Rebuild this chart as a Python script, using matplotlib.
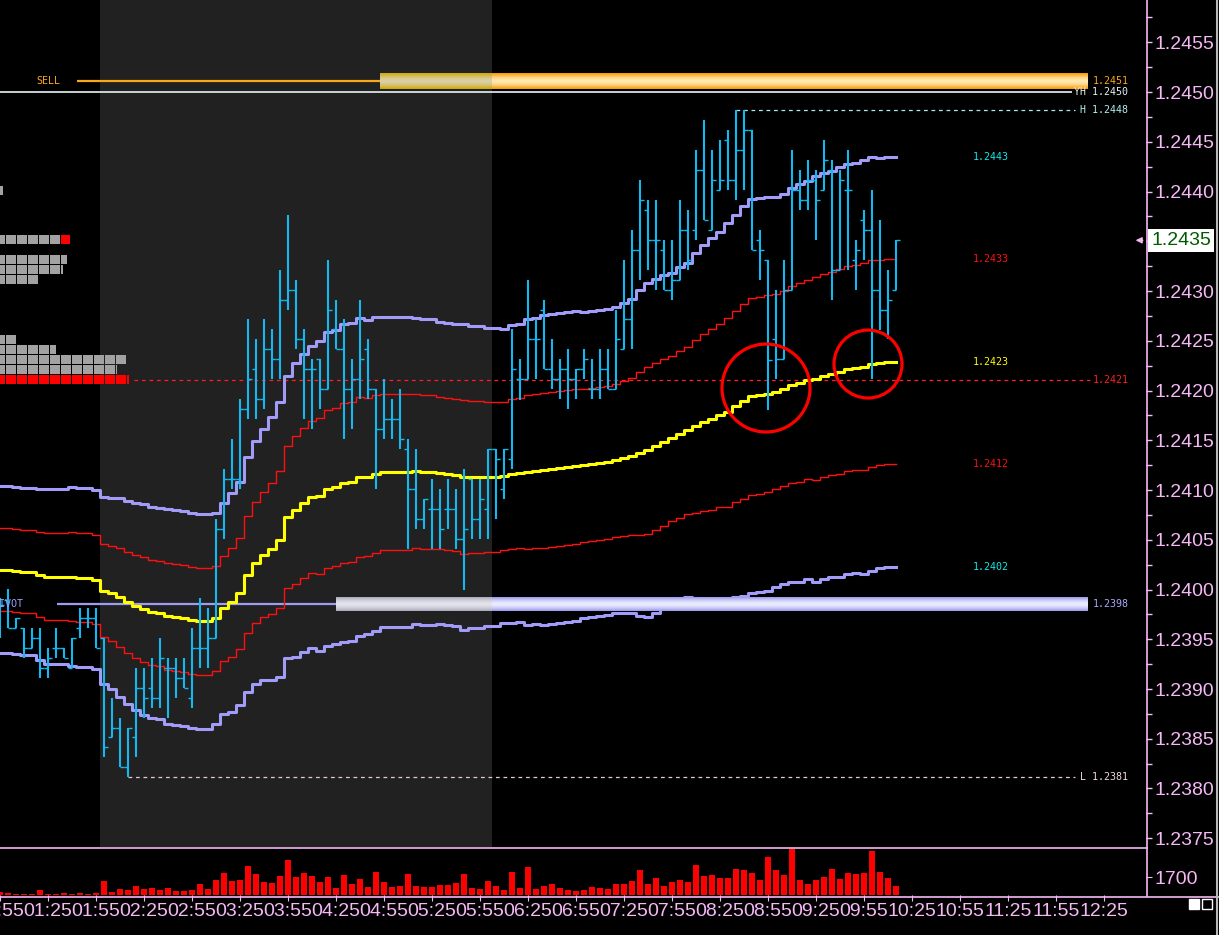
import matplotlib
matplotlib.use("Agg")
import numpy as np
import matplotlib.pyplot as plt
from matplotlib.patches import Ellipse, Rectangle
from matplotlib.lines import Line2D
from matplotlib.ticker import MultipleLocator, FuncFormatter
from matplotlib.colors import to_rgb
import matplotlib.transforms as mtransforms

plt.rcParams['font.family'] = ['Liberation Sans', 'DejaVu Sans']

# 5 minute bars, first bar at 00:55
opens = [
    1.23959, 1.23989, 1.23961, 1.23961, 1.23941, 1.23951, 1.23921, 1.23941, 1.23941, 1.23921,
    1.23961, 1.23971, 1.23971, 1.23951, 1.23852, 1.23861, 1.23822, 1.23852, 1.23901, 1.23901,
    1.23891, 1.23921, 1.23921, 1.23911, 1.23891, 1.23941, 1.23941, 1.23951, 1.24061, 1.24111,
    1.24111, 1.24181, 1.24222, 1.24191, 1.24242, 1.24232, 1.24291, 1.24301, 1.24252, 1.24222,
    1.24232, 1.24202, 1.24262, 1.24242, 1.24202, 1.24212, 1.24242, 1.24202, 1.24161, 1.24171,
    1.24171, 1.24141, 1.24101, 1.24071, 1.24081, 1.24081, 1.24081, 1.24081, 1.24051, 1.24111,
    1.24071, 1.24081, 1.24141, 1.24101, 1.24131, 1.24212, 1.24212, 1.24252, 1.24281, 1.24222,
    1.24212, 1.24222, 1.24212, 1.24222, 1.24202, 1.24202, 1.24222, 1.24202, 1.24242, 1.24272,
    1.24341, 1.24381, 1.24351, 1.24341, 1.24301, 1.24311, 1.24361, 1.24361, 1.24422, 1.24361,
    1.24402, 1.24452, 1.24412, 1.24442, 1.24462, 1.24351, 1.24331, 1.24252, 1.24232, 1.24301,
    1.24402, 1.24391, 1.24412, 1.24402, 1.24422, 1.24321, 1.24402, 1.24331, 1.24371, 1.24361,
    1.24301, 1.24281, 1.24301]
highs = [
    1.23991, 1.24001, 1.23971, 1.23961, 1.23961, 1.23961, 1.23941, 1.23961, 1.23941, 1.23951,
    1.23981, 1.23981, 1.23981, 1.23951, 1.23891, 1.23871, 1.23861, 1.23921, 1.23921, 1.23931,
    1.23951, 1.23931, 1.23931, 1.23931, 1.23961, 1.23991, 1.23981, 1.24071, 1.24121, 1.24151,
    1.24191, 1.24272, 1.24252, 1.24272, 1.24262, 1.24321, 1.24376, 1.24311, 1.24262, 1.24232,
    1.24232, 1.24331, 1.24291, 1.24272, 1.24232, 1.24291, 1.24252, 1.24202, 1.24212, 1.24191,
    1.24202, 1.24151, 1.24141, 1.24091, 1.24111, 1.24101, 1.24111, 1.24101, 1.24121, 1.24111,
    1.24111, 1.24141, 1.24141, 1.24141, 1.24262, 1.24232, 1.24311, 1.24272, 1.24291, 1.24252,
    1.24232, 1.24242, 1.24222, 1.24242, 1.24232, 1.24242, 1.24242, 1.24281, 1.24331, 1.24361,
    1.24412, 1.24391, 1.24391, 1.24351, 1.24351, 1.24391, 1.24381, 1.24442, 1.24472, 1.24442,
    1.24452, 1.24462, 1.24482, 1.24482, 1.24462, 1.24361, 1.24331, 1.24301, 1.24331, 1.24442,
    1.24422, 1.24432, 1.24422, 1.24452, 1.24432, 1.24422, 1.24442, 1.24351, 1.24381, 1.24402,
    1.24371, 1.24321, 1.24351]
lows = [
    1.23951, 1.23961, 1.23961, 1.23931, 1.23941, 1.23911, 1.23911, 1.23931, 1.23931, 1.23921,
    1.23951, 1.23961, 1.23941, 1.23832, 1.23852, 1.23822, 1.23812, 1.23832, 1.23871, 1.23881,
    1.23881, 1.23871, 1.23891, 1.23901, 1.23881, 1.23921, 1.23921, 1.23951, 1.24051, 1.24101,
    1.24101, 1.24171, 1.24171, 1.24181, 1.24212, 1.24212, 1.24281, 1.24242, 1.24171, 1.24161,
    1.24181, 1.24202, 1.24242, 1.24151, 1.24161, 1.24191, 1.24191, 1.24101, 1.24151, 1.24151,
    1.24141, 1.24041, 1.24061, 1.24061, 1.24041, 1.24041, 1.24061, 1.24041, 1.24000, 1.24051,
    1.24051, 1.24051, 1.24071, 1.24091, 1.24121, 1.24190, 1.24212, 1.24212, 1.24222, 1.24202,
    1.24191, 1.24181, 1.24191, 1.24212, 1.24191, 1.24191, 1.24202, 1.24202, 1.24242, 1.24242,
    1.24311, 1.24321, 1.24301, 1.24301, 1.24291, 1.24311, 1.24321, 1.24351, 1.24371, 1.24361,
    1.24402, 1.24402, 1.24391, 1.24402, 1.24341, 1.24311, 1.24180, 1.24212, 1.24232, 1.24301,
    1.24381, 1.24381, 1.24351, 1.24402, 1.24291, 1.24321, 1.24321, 1.24301, 1.24331, 1.24212,
    1.24261, 1.24252, 1.24301]
closes = [
    1.23984, 1.23961, 1.23971, 1.23941, 1.23951, 1.23921, 1.23931, 1.23941, 1.23931, 1.23951,
    1.23971, 1.23971, 1.23941, 1.23842, 1.23861, 1.23822, 1.23861, 1.23901, 1.23891, 1.23891,
    1.23931, 1.23921, 1.23911, 1.23901, 1.23941, 1.23941, 1.23951, 1.24061, 1.24111, 1.24111,
    1.24181, 1.24212, 1.24191, 1.24242, 1.24232, 1.24291, 1.24301, 1.24252, 1.24222, 1.24222,
    1.24202, 1.24281, 1.24242, 1.24202, 1.24212, 1.24232, 1.24202, 1.24161, 1.24171, 1.24171,
    1.24151, 1.24101, 1.24071, 1.24091, 1.24081, 1.24061, 1.24081, 1.24051, 1.24061, 1.24071,
    1.24091, 1.24141, 1.24131, 1.24141, 1.24222, 1.24212, 1.24252, 1.24252, 1.24222, 1.24212,
    1.24222, 1.24212, 1.24222, 1.24232, 1.24202, 1.24222, 1.24202, 1.24252, 1.24272, 1.24341,
    1.24391, 1.24351, 1.24351, 1.24301, 1.24311, 1.24361, 1.24331, 1.24422, 1.24371, 1.24412,
    1.24412, 1.24412, 1.24442, 1.24462, 1.24341, 1.24341, 1.24231, 1.24232, 1.24301, 1.24402,
    1.24391, 1.24412, 1.24391, 1.24432, 1.24321, 1.24412, 1.24402, 1.24341, 1.24361, 1.24301,
    1.24281, 1.24291, 1.24351]
volumes = [
    310, 220, 130, 100, 130, 465, 95, 95, 185, 95,
    185, 125, 215, 1395, 280, 560, 465, 835, 560, 650,
    465, 650, 370, 370, 465, 1020, 560, 1490, 2140, 1395,
    1490, 2790, 2045, 1300, 1115, 1860, 3350, 1770, 2140, 1860,
    1210, 1770, 650, 1955, 1020, 1580, 745, 2230, 1210, 745,
    835, 2045, 835, 745, 745, 930, 930, 1115, 2045, 650,
    560, 1395, 835, 465, 2230, 650, 2700, 560, 835, 1020,
    650, 465, 370, 465, 745, 680, 620, 1085, 1085, 1395,
    2390, 1085, 1645, 835, 1270, 1455, 1270, 2945, 1860, 1955,
    1645, 1645, 2480, 2390, 2140, 1455, 3720, 2390, 1955, 4430,
    1455, 1085, 1455, 1770, 2480, 1580, 2140, 2045, 2140, 4250,
    2230, 1675, 835]
vwap = [
    1.24020, 1.24020, 1.24019, 1.24018, 1.24018, 1.24015, 1.24013, 1.24013, 1.24013, 1.24013,
    1.24012, 1.24012, 1.24010, 1.23999, 1.23996, 1.23992, 1.23987, 1.23983, 1.23980, 1.23977,
    1.23976, 1.23973, 1.23972, 1.23971, 1.23969, 1.23968, 1.23968, 1.23971, 1.23981, 1.23987,
    1.23996, 1.24015, 1.24027, 1.24035, 1.24041, 1.24050, 1.24073, 1.24080, 1.24087, 1.24093,
    1.24094, 1.24101, 1.24103, 1.24107, 1.24108, 1.24113, 1.24113, 1.24116, 1.24118, 1.24118,
    1.24118, 1.24118, 1.24119, 1.24118, 1.24118, 1.24117, 1.24116, 1.24115, 1.24113, 1.24113,
    1.24113, 1.24113, 1.24113, 1.24114, 1.24116, 1.24117, 1.24118, 1.24119, 1.24120, 1.24121,
    1.24122, 1.24123, 1.24124, 1.24125, 1.24126, 1.24127, 1.24128, 1.24130, 1.24132, 1.24134,
    1.24137, 1.24140, 1.24144, 1.24148, 1.24152, 1.24156, 1.24160, 1.24164, 1.24168, 1.24171,
    1.24175, 1.24178, 1.24184, 1.24189, 1.24194, 1.24195, 1.24197, 1.24199, 1.24202, 1.24206,
    1.24208, 1.24211, 1.24212, 1.24215, 1.24217, 1.24219, 1.24222, 1.24223, 1.24224, 1.24227,
    1.24228, 1.24229, 1.24229]
# band width (one standard deviation) in pips
sd_pips = [
    4.2, 4.2, 4.2, 4.2, 4.2, 4.3, 4.4, 4.4, 4.4, 4.5,
    4.5, 4.5, 4.5, 4.7, 4.8, 5.0, 5.1, 5.2, 5.3, 5.3,
    5.3, 5.4, 5.4, 5.4, 5.4, 5.4, 5.4, 5.3, 5.3, 5.5,
    5.6, 5.9, 6.1, 6.3, 6.6, 6.9, 7.1, 7.4, 7.5, 7.6,
    7.8, 7.9, 7.9, 8.0, 8.0, 8.0, 7.9, 7.9, 7.8, 7.8,
    7.8, 7.8, 7.7, 7.7, 7.7, 7.6, 7.6, 7.6, 7.7, 7.6,
    7.6, 7.5, 7.5, 7.4, 7.5, 7.5, 7.7, 7.7, 7.8, 7.8,
    7.8, 7.8, 7.8, 7.7, 7.7, 7.7, 7.7, 7.7, 7.8, 7.9,
    8.2, 8.4, 8.4, 8.4, 8.3, 8.4, 8.4, 8.7, 8.9, 9.1,
    9.2, 9.5, 9.6, 9.8, 9.9, 9.9, 9.9, 9.8, 9.8, 9.9,
    10.0, 10.0, 10.2, 10.2, 10.2, 10.3, 10.3, 10.3, 10.4, 10.4,
    10.3, 10.3, 10.3]

time_labels = ['00:55', '01:25', '01:55', '02:25', '02:55', '03:25', '03:55', '04:25',
               '04:55', '05:25', '05:55', '06:25', '06:55', '07:25', '07:55', '08:25',
               '08:55', '09:25', '09:55', '10:25', '10:55', '11:25', '11:55', '12:25']
bars_per_label = 6

# key levels
sell_level = 1.24511
yh_level = 1.2450
h_level = 1.24482
alert_level = 1.24211
pivot_level = 1.23985
l_level = 1.23812
band_texts = ['1.2443', '1.2433', '1.2423', '1.2412', '1.2402']

# depth ladder on the left
dom_prices = [1.2440, 1.2435, 1.2433, 1.2432, 1.2431, 1.2425, 1.2424, 1.2423, 1.2422, 1.2421]
dom_cells = [0.8, 6.9, 6.6, 6.3, 4.0, 2.0, 5.6, 12.0, 11.2, 12.3]
dom_red_from = [99, 6, 99, 99, 99, 99, 99, 99, 99, 0]

PINK = '#F6B8F6'
BLUE = '#12B8F0'
LAV = '#A09CF8'
ORANGE = '#F8A818'
W, H = 1219, 935

x = np.arange(len(closes))
vw = np.array(vwap)
sd = np.array(sd_pips) * 0.0001

fig = plt.figure(figsize=(W / 100, H / 100), dpi=100, facecolor='black')
ax = fig.add_axes([0, 88 / H, 1146 / W, 847 / H], facecolor='black')
axv = fig.add_axes([0, 40 / H, 1146 / W, 46 / H], facecolor='black')
for a in (ax, axv):
    for s in a.spines.values():
        s.set_visible(False)

# session shading
ax.axvspan(12.5, 61.5, color='#212121', zorder=0, lw=0)

# order book ladder
for p, n, r in zip(dom_prices, dom_cells, dom_red_from):
    k = 0
    while k < n:
        w = min(10, (n - k) * 11 - 1) / 8
        col = '#FF0000' if k >= r else '#A2A2A2'
        ax.broken_barh([(-0.625 + k * 1.375, w)], (p - 0.00003, 0.00009),
                       facecolors=col, zorder=2)
        k += 1


def zone(x0, x1, yc, half, edge, mid, z=3):
    t = np.abs(np.linspace(-1, 1, 40)) ** 1.6
    e = np.array(to_rgb(edge))
    m = np.array(to_rgb(mid))
    cols = m[None, :] * (1 - t[:, None]) + e[None, :] * t[:, None]
    ax.imshow(cols[:, None, :], extent=(x0, x1, yc - half, yc + half), aspect='auto',
              origin='lower', interpolation='bilinear', zorder=z)


# level lines
ax.hlines(sell_level, 9.6, 47.5, color=ORANGE, lw=1.6, zorder=3)
zone(47.5, 61.5, sell_level, 0.000078, '#D0A800', '#DCD0A8')
zone(61.5, 136, sell_level, 0.000078, '#F89800', '#FFEAB0')
ax.hlines(yh_level, 0, 134, color='#E8F4F4', lw=1.2, zorder=3)
ax.hlines(h_level, 92, 134.4, color='#A8ECEC', lw=0.9, linestyles=(0, (3, 3)), zorder=3)
ax.hlines(alert_level, 16.7, 136.2, color='#FF2020', lw=0.9, linestyles=(0, (3, 3)), zorder=3)
ax.hlines(l_level, 16, 134.4, color='#E8C8D8', lw=0.9, linestyles=(0, (3, 3)), zorder=3)
ax.hlines(pivot_level, 7.1, 42, color='#9C9CF0', lw=1.6, zorder=3)

# vwap and bands
ax.step(x, vw + 2 * sd, where='mid', color=LAV, lw=2.2, zorder=4)
ax.step(x, vw - 2 * sd, where='mid', color=LAV, lw=2.2, zorder=4)
ax.step(x, vw + sd, where='mid', color='#FF1010', lw=1.0, zorder=4)
ax.step(x, vw - sd, where='mid', color='#FF1010', lw=1.0, zorder=4)
ax.step(x, vw, where='mid', color='#FFFF00', lw=2.2, zorder=4)

zone(42, 61.5, pivot_level, 0.00007, '#A8A8BC', '#E4E4EC', z=4.5)
zone(61.5, 136, pivot_level, 0.00007, '#9898EC', '#ECECFF', z=4.5)

# price bars
ax.vlines(x, lows, highs, color=BLUE, lw=1.5, zorder=5)
ax.hlines(opens, x - 0.55, x, color=BLUE, lw=1.0, zorder=5)
ax.hlines(closes, x, x + 0.55, color=BLUE, lw=1.0, zorder=5)

# circles
ax.add_patch(Ellipse((95.75, 1.242025), 11, 0.000884, fill=False, ec='#FF0000', lw=2.3, zorder=6))
ax.add_patch(Ellipse((108.5, 1.242266), 8.5, 0.000683, fill=False, ec='#FF0000', lw=2.3, zorder=6))

# labels
mono = dict(family='DejaVu Sans Mono', fontsize=7.2, va='center', zorder=7)
ax.text(4.5, sell_level, 'SELL', color=ORANGE, **mono)
ax.text(2.9, pivot_level, 'PIVOT', color='#A0A0FF', ha='right', **mono)
ax.text(136.6, sell_level, '1.2451', color=ORANGE, **mono)
ax.text(141.0, yh_level, 'YH 1.2450', color='#E8F0F0', ha='right', **mono)
ax.text(141.0, h_level, 'H 1.2448', color='#B0F0F0', ha='right', **mono)
ax.text(136.6, alert_level, '1.2421', color='#FF2020', **mono)
ax.text(136.6, pivot_level, '1.2398', color='#A8A8FF', **mono)
ax.text(141.0, l_level, 'L 1.2381', color='#F0D8E4', ha='right', **mono)
band_vals = [vw[-1] + 2 * sd[-1], vw[-1] + sd[-1], vw[-1], vw[-1] - sd[-1], vw[-1] - 2 * sd[-1]]
band_cols = ['#10E8E8', '#FF1010', '#FFFF00', '#FF1010', '#10E8E8']
for v, t, c in zip(band_vals, band_texts, band_cols):
    ax.text(121.6, v, t, color=c, **mono)

# price axis
ax.set_xlim(0, 143.25)
ax.set_ylim(1.237412, 1.245925)
ax.yaxis.tick_right()
ax.yaxis.set_major_locator(MultipleLocator(0.0005))
ax.yaxis.set_minor_locator(MultipleLocator(0.00025))
ax.yaxis.set_major_formatter(FuncFormatter(
    lambda v, p: '' if abs(v - closes[-1]) < 0.00005 else f'{v:.4f}'))
ax.tick_params(axis='y', which='both', colors=PINK, direction='out', length=4,
               width=1, labelsize=14, pad=2)
ax.tick_params(axis='x', bottom=False, labelbottom=False)

# last price box and arrow
tr = mtransforms.blended_transform_factory(ax.transAxes, ax.transData)
ax.text(1.0045, closes[-1], f'{closes[-1]:.4f}', transform=tr, color='#005A00',
        fontsize=14, va='center', ha='left', clip_on=False,
        bbox=dict(facecolor='white', edgecolor='none', pad=2.2))
ax.annotate('', xy=(141.6, closes[-1]), xytext=(143.2, closes[-1]),
            arrowprops=dict(arrowstyle='-|>', color=PINK, lw=1, mutation_scale=9),
            annotation_clip=False, zorder=7)

# volume panel
axv.bar(x, volumes, width=0.7, color='#FF0000')
axv.set_xlim(0, 143.25)
axv.set_ylim(0, 4450)
axv.yaxis.tick_right()
axv.set_yticks([1700])
axv.set_yticklabels(['1700'])
axv.tick_params(axis='y', colors=PINK, direction='out', length=4, labelsize=14, pad=2)
axv.set_xticks([k * bars_per_label for k in range(len(time_labels))])
axv.set_xticklabels(time_labels)
axv.tick_params(axis='x', colors=PINK, direction='out', length=4, labelsize=14, pad=1.5)

# frame lines
fig.add_artist(Line2D([1146.5 / W] * 2, [1, 1 - 896 / H], color=PINK, lw=1.2))
fig.add_artist(Line2D([0, 1146.5 / W], [1 - 848 / H] * 2, color=PINK, lw=1.2))
fig.add_artist(Line2D([0, 1], [1 - 896.5 / H] * 2, color=PINK, lw=1.2))
fig.add_artist(Line2D([1216.5 / W] * 2, [0, 1], color='#B8B8B8', lw=1.5))
fig.add_artist(Rectangle((1189 / W, 1 - 909 / H), 10 / W, 10 / H, transform=fig.transFigure,
                         facecolor='white', edgecolor='white', lw=1))
fig.add_artist(Rectangle((1202 / W, 1 - 909 / H), 10 / W, 10 / H, transform=fig.transFigure,
                         facecolor='none', edgecolor='white', lw=1))

fig.savefig('out.png', dpi=100, facecolor='black')
